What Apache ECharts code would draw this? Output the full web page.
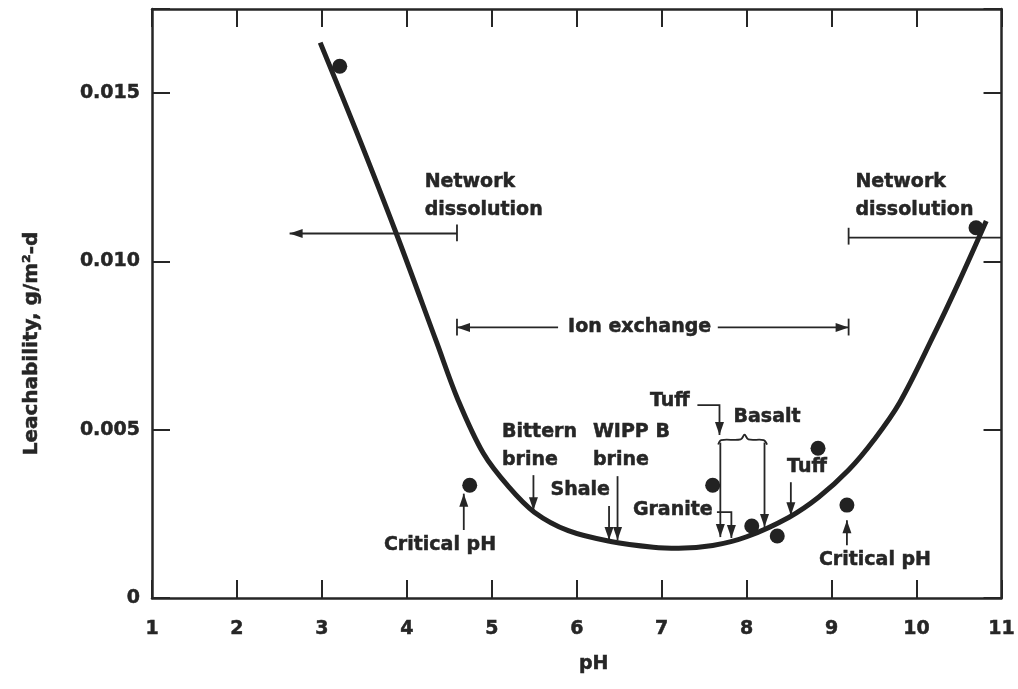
<!DOCTYPE html>
<html><head><meta charset="utf-8">
<script src="https://cdn.jsdelivr.net/npm/echarts@6/dist/echarts.min.js"></script>
<style>html,body{margin:0;padding:0;background:#fff}#c{width:1018px;height:689px}</style>
</head><body><div id="c"></div>
<script>
// ---- data ----
const xTickValues = [1,2,3,4,5,6,7,8,9,10,11];
const yTickLabels = ['0','0.005','0.010','0.015'];
const curvePH    = [2.98, 3.4, 3.88, 4.35, 4.6, 4.9, 5.2, 5.5, 5.9, 6.4, 6.9, 7.2, 7.6, 8.0, 8.5, 8.85, 9.2, 9.5, 9.8, 10.2, 10.5, 10.82];
const curveLeach = [0.0165, 0.0139, 0.0108, 0.0076, 0.0059, 0.0043, 0.0033, 0.00255, 0.0020, 0.00168, 0.00151, 0.00148, 0.00156, 0.00182, 0.0024, 0.0030, 0.0038, 0.0047, 0.0058, 0.0078, 0.0094, 0.0112];
const pointPH    = [3.21, 4.74, 7.6, 8.06, 8.36, 8.84, 9.18, 10.7];
const pointLeach = [0.0158, 0.00335, 0.00335, 0.00214, 0.00184, 0.00445, 0.00276, 0.0110];

// annotation arrows (data coords), head at last point
const arrowPaths = [
  [[4.59,0.01083],[2.62,0.01083]],
  [[5.78,0.00804],[4.59,0.00804]],
  [[7.66,0.00804],[9.2,0.00804]],
  [[4.67,0.00202],[4.67,0.0031]],
  [[9.18,0.00157],[9.18,0.00231]],
  [[5.49,0.00365],[5.49,0.00261]],
  [[6.38,0.00273],[6.38,0.00172]],
  [[6.48,0.00362],[6.48,0.00172]],
  [[7.42,0.00573],[7.68,0.00573],[7.68,0.00484]],
  [[7.69,0.00462],[7.69,0.00181]],
  [[8.21,0.00462],[8.21,0.00211]],
  [[7.65,0.00255],[7.82,0.00255],[7.82,0.00178]],
  [[8.52,0.00344],[8.52,0.00246]]
];
// plain lines and end bars
const plainPaths = [
  [[9.2,0.01071],[11,0.01071]],
  [[4.59,0.0106],[4.59,0.0111]],
  [[9.2,0.0105],[9.2,0.0110]],
  [[4.59,0.0078],[4.59,0.0083]],
  [[9.2,0.0078],[9.2,0.0083]]
];
const bracePath = [[7.665,0.00456],[7.70,0.00469],[7.93,0.00471],[7.975,0.00485],[8.02,0.00471],[8.20,0.00469],[8.24,0.00456]];
const noteTexts = ['Network\ndissolution','Network\ndissolution','Ion exchange','Critical pH','Critical pH','Bittern\nbrine','WIPP B\nbrine','Shale','Tuff','Basalt','Granite','Tuff'];
const notePH    = [4.21, 9.28, 6.74, 4.39, 9.51, 5.12, 6.19, 6.04, 7.33, 8.24, 7.6, 8.71];
const noteLeach = [0.01193, 0.01193, 0.00804, 0.00157, 0.00113, 0.00451, 0.00451, 0.0032, 0.00585, 0.00537, 0.00261, 0.00389];
const noteAlign = ['left','left','center','center','center','left','left','center','right','center','right','center'];

// ---- chart ----
const INK = '#262626';
const FONT = '"DejaVu Sans", "Liberation Sans", Arial, sans-serif';
const FS = 19;
const chart = echarts.init(document.getElementById('c'));

function axisBase(pos) {
  return {
    type: 'value', position: pos,
    axisLine: { show: true, onZero: false, lineStyle: { color: INK, width: 2.5 } },
    axisTick: { show: true, inside: true, length: 18, lineStyle: { color: INK, width: 2 } },
    splitLine: { show: false }
  };
}
const labelFont = { color: INK, fontFamily: FONT, fontWeight: 'bold', fontSize: FS, textBorderColor: INK, textBorderWidth: 0.5 };
function arrowItem(params, api) {
  const pts = arrowPaths[params.dataIndex].map(p => api.coord(p));
  const n = pts.length;
  const [x2, y2] = pts[n-1], [x1, y1] = pts[n-2];
  const dx = x2-x1, dy = y2-y1, L = Math.hypot(dx, dy), ux = dx/L, uy = dy/L;
  const hl = 13, hw = 4.5;
  return { type: 'group', children: [
    { type: 'polyline', shape: { points: pts }, style: { stroke: INK, lineWidth: 1.8, fill: null } },
    { type: 'polygon', shape: { points: [[x2,y2],[x2-ux*hl-uy*hw, y2-uy*hl+ux*hw],[x2-ux*hl+uy*hw, y2-uy*hl-ux*hw]] }, style: { fill: INK } }
  ]};
}
function plainItem(params, api) {
  const pts = plainPaths[params.dataIndex].map(p => api.coord(p));
  return { type: 'polyline', shape: { points: pts }, style: { stroke: INK, lineWidth: 1.8, fill: null } };
}
function braceItem(params, api) {
  const pts = bracePath.map(p => api.coord(p));
  return { type: 'polyline', shape: { points: pts, smooth: 0.35 }, style: { stroke: INK, lineWidth: 1.8, fill: null } };
}
function noteItem(params, api) {
  const i = params.dataIndex;
  const [x, y] = api.coord([notePH[i], noteLeach[i]]);
  return { type: 'text', x: x, y: y, style: {
    text: noteTexts[i], fill: INK, font: 'bold ' + FS + 'px ' + FONT, stroke: INK, lineWidth: 0.5,
    align: noteAlign[i], verticalAlign: 'middle', lineHeight: 28 } };
}

const option = {
  animation: false,
  grid: { left: 152, right: 16, top: 9, bottom: 91 },
  xAxis: [
    Object.assign(axisBase('bottom'), {
      min: 1, max: 11, interval: 1,
      axisLabel: Object.assign({ margin: 22, formatter: v => xTickValues.indexOf(v) >= 0 ? String(v) : '' }, labelFont),
      name: 'pH', nameLocation: 'middle', nameGap: 57,
      nameTextStyle: Object.assign({ padding: [0,0,0,34] }, labelFont)
    }),
    Object.assign(axisBase('top'), { min: 1, max: 11, interval: 1, axisLabel: { show: false } })
  ],
  yAxis: [
    Object.assign(axisBase('left'), {
      min: 0, max: 0.0175, interval: 0.005,
      axisLabel: Object.assign({ margin: 12,
        formatter: v => { const k = Math.round(v / 0.005); return (Math.abs(v - k*0.005) < 1e-9 && k < yTickLabels.length) ? yTickLabels[k] : ''; } }, labelFont),
      name: 'Leachability, g/m²-d', nameLocation: 'middle', nameGap: 110,
      nameTextStyle: Object.assign({ padding: [0,80,0,0] }, labelFont, { fontSize: 20 })
    }),
    Object.assign(axisBase('right'), { min: 0, max: 0.0175, interval: 0.005, axisLabel: { show: false } })
  ],
  series: [
    { type: 'line', smooth: 0.35, symbol: 'none', data: curvePH.map((x, i) => [x, curveLeach[i]]),
      lineStyle: { color: '#222', width: 5 }, z: 3 },
    { type: 'scatter', symbol: 'circle', symbolSize: 15, data: pointPH.map((x, i) => [x, pointLeach[i]]),
      itemStyle: { color: '#222', opacity: 1 }, z: 4 },
    { type: 'custom', renderItem: arrowItem, data: arrowPaths.map(p => p[0]), z: 2, clip: false },
    { type: 'custom', renderItem: plainItem, data: plainPaths.map(p => p[0]), z: 2, clip: false },
    { type: 'custom', renderItem: braceItem, data: [bracePath[0]], z: 2, clip: false },
    { type: 'custom', renderItem: noteItem, data: notePH.map((x, i) => [x, noteLeach[i]]), z: 5, clip: false }
  ]
};
chart.setOption(option);
</script>
</body></html>
